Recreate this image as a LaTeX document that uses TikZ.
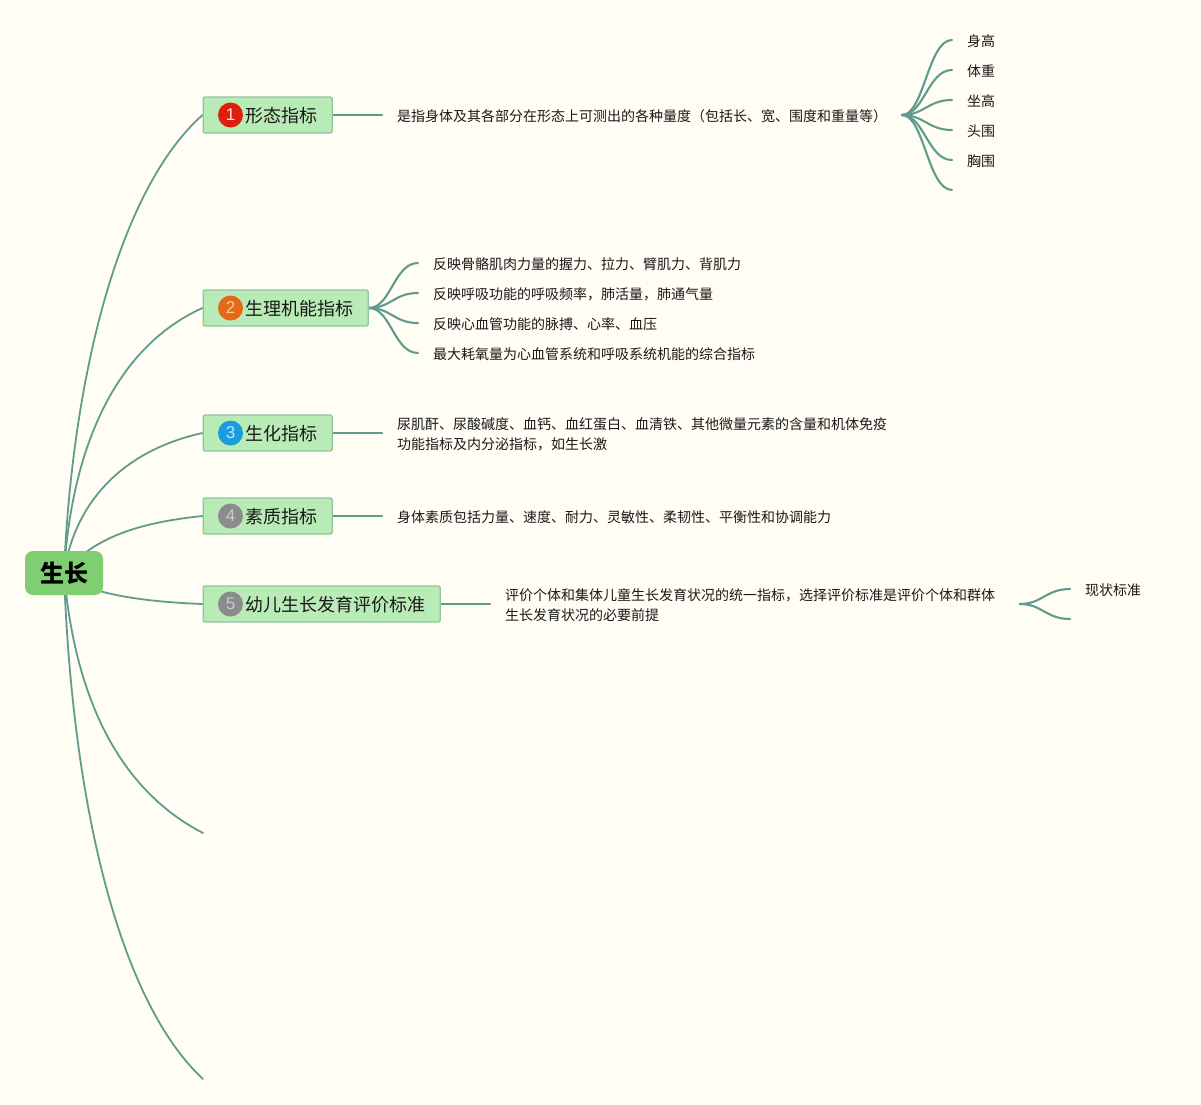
\documentclass[tikz,border=0pt]{standalone}
\usepackage{fontspec}
\setmainfont{Noto Sans CJK SC}
\newfontfamily\numfont{Liberation Sans}
\usetikzlibrary{backgrounds}
\definecolor{pagebg}{HTML}{FFFDF4}
\definecolor{linkc}{HTML}{5F9C8D}
\definecolor{rootfill}{HTML}{80CE72}
\definecolor{boxfill}{HTML}{B9EBB6}
\definecolor{boxline}{HTML}{8FC5A0}
\definecolor{mkred}{HTML}{DD1F0B}
\definecolor{mkorange}{HTML}{E4681A}
\definecolor{mkblue}{HTML}{1B9CDC}
\definecolor{mkgrey}{HTML}{8B8B8B}
\tikzset{
  rootnode/.style={draw=none,fill=rootfill,rounded corners=8pt,minimum width=78pt,minimum height=44pt,inner sep=0pt,font=\fontsize{24}{28}\selectfont\bfseries},
  branchbox/.style={draw=boxline,line width=1.4pt,fill=boxfill,rounded corners=1.5pt,minimum height=36pt,inner sep=0pt,anchor=west},
  branchtext/.style={anchor=west,inner sep=0pt,font=\fontsize{18}{22}\selectfont,text=black!90},
  marker/.style={circle,minimum size=25pt,inner sep=0pt,font=\numfont\fontsize{17}{20}\selectfont},
  detail/.style={anchor=west,inner xsep=15pt,inner ysep=0pt,align=left,font=\fontsize{14}{20}\selectfont,text=black!90},
  oneline/.style={detail,text height=14.6pt,text depth=2pt},
  link/.style={draw=linkc,line width=1.8pt,line cap=round},
  fanlink/.style={draw=linkc,line width=2.1pt,line cap=round},
}
\newcommand{\fan}[2]{\path[fanlink] (#1) .. controls ([xshift=22pt]#1) and ([xshift=-24pt]#2) .. (#2);}
\begin{document}
\begin{tikzpicture}[x=1pt,y=-1pt]
\useasboundingbox (0,0) rectangle (1201,1104);
% root
\node[rootnode] (root) at (64,573) {\raisebox{-1pt}{生长}};
% branches
\node[branchbox,minimum width=129pt] (b1) at (202.5,115) {};
\node[marker,fill=mkred,text=white!90!red] (m1) at (230.5,115) {1};
\node[branchtext] (n1) at (245,116) {形态指标};
\node[branchbox,minimum width=165pt] (b2) at (202.5,308) {};
\node[marker,fill=mkorange,text=orange!40!white] (m2) at (230.5,308) {2};
\node[branchtext] (n2) at (245,309) {生理机能指标};
\node[branchbox,minimum width=129pt] (b3) at (202.5,433) {};
\node[marker,fill=mkblue,text=cyan!25!white] (m3) at (230.5,433) {3};
\node[branchtext] (n3) at (245,434) {生化指标};
\node[branchbox,minimum width=129pt] (b4) at (202.5,516) {};
\node[marker,fill=mkgrey,text=black!20] (m4) at (230.5,516) {4};
\node[branchtext] (n4) at (245,517) {素质指标};
\node[branchbox,minimum width=237pt] (b5) at (202.5,604) {};
\node[marker,fill=mkgrey,text=black!20] (m5) at (230.5,604) {5};
\node[branchtext] (n5) at (245,605) {幼儿生长发育评价标准};
% details
\node[oneline] (d1) at (382,115) {是指身体及其各部分在形态上可测出的各种量度（包括长、宽、围度和重量等）};
\node[oneline] (l1) at (952,40) {身高};
\node[oneline] (l2) at (952,70) {体重};
\node[oneline] (l3) at (952,100) {坐高};
\node[oneline] (l4) at (952,130) {头围};
\node[oneline] (l5) at (952,160) {胸围};
\coordinate (l6) at (952,190);
\coordinate (hub1) at (902,115);
\node[oneline] (p1) at (418,263) {反映骨骼肌肉力量的握力、拉力、臂肌力、背肌力};
\node[oneline] (p2) at (418,293) {反映呼吸功能的呼吸频率，肺活量，肺通气量};
\node[oneline] (p3) at (418,323) {反映心血管功能的脉搏、心率、血压};
\node[oneline] (p4) at (418,353) {最大耗氧量为心血管系统和呼吸系统机能的综合指标};
\node[detail] (d3) at (382,434.5) {尿肌酐、尿酸碱度、血钙、血红蛋白、血清铁、其他微量元素的含量和机体免疫\\功能指标及内分泌指标，如生长激};
\node[oneline] (d4) at (382,516) {身体素质包括力量、速度、耐力、灵敏性、柔韧性、平衡性和协调能力};
\node[detail] (d5) at (490,605.5) {评价个体和集体儿童生长发育状况的统一指标，选择评价标准是评价个体和群体\\生长发育状况的必要前提};
\coordinate (hub5) at (1020,604);
\node[oneline] (s1) at (1070,589) {现状标准};
\coordinate (s2) at (1070,619);
\coordinate (e6) at (203,833);
\coordinate (e7) at (203,1079);
\begin{pgfonlayer}{background}
\fill[pagebg] (0,0) rectangle (1201,1104);
\path[link] (root.center) .. controls (72,380) and (118,190) .. (b1.west);
\path[link] (root.center) .. controls (72,440) and (120,345) .. (b2.west);
\path[link] (root.center) .. controls (75,500) and (125,450) .. (b3.west);
\path[link] (root.center) .. controls (95,535) and (145,522) .. (b4.west);
\path[link] (root.center) .. controls (85,595) and (150,602) .. (b5.west);
\path[link] (root.center) .. controls (75,700) and (120,790) .. (e6);
\path[link] (root.center) .. controls (72,800) and (118,1000) .. (e7);
\path[fanlink] (b1.east) -- (b1.east -| d1.west);
\path[fanlink] (b3.east) -- (b3.east -| d3.west);
\path[fanlink] (b4.east) -- (b4.east -| d4.west);
\path[fanlink] (b5.east) -- (b5.east -| d5.west);
\fan{hub1}{l1.west}
\fan{hub1}{l2.west}
\fan{hub1}{l3.west}
\fan{hub1}{l4.west}
\fan{hub1}{l5.west}
\fan{hub1}{l6}
\fan{b2.east}{p1.west}
\fan{b2.east}{p2.west}
\fan{b2.east}{p3.west}
\fan{b2.east}{p4.west}
\fan{hub5}{s1.west}
\fan{hub5}{s2}
\end{pgfonlayer}
\end{tikzpicture}
\end{document}
